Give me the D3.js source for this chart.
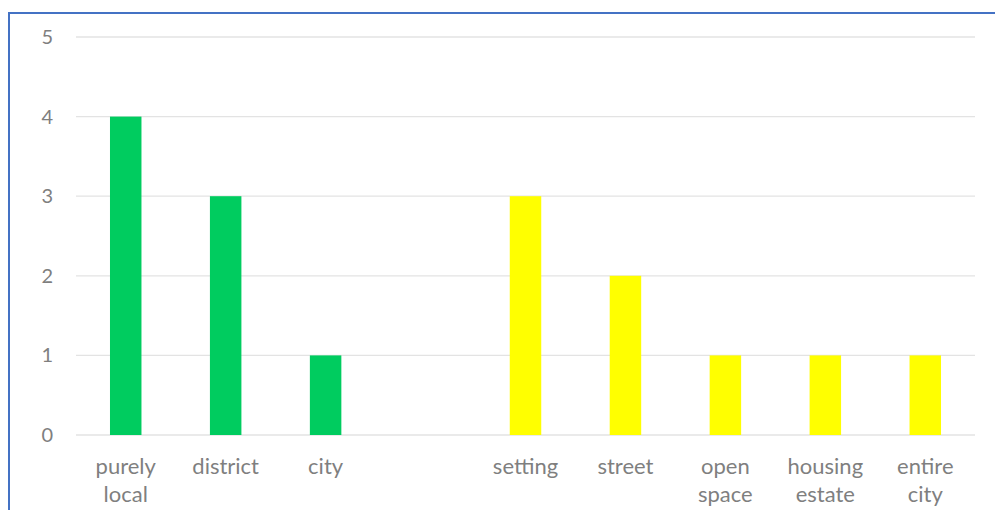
<!DOCTYPE html>
<html>
<head>
<meta charset="utf-8">
<script src="https://cdn.jsdelivr.net/npm/d3@7"></script>
<style>
  html, body { margin: 0; padding: 0; background: #fff; }
  svg { display: block; }
  text { font-family: Lato, "Open Sans", sans-serif; fill: #7f7f7f; }
</style>
</head>
<body>
<svg id="chart" width="995" height="510"></svg>
<script>
// Scale categories; the blank entry keeps a gap between the two groups
const categories = ["purely local", "district", "city", "", "setting", "street", "open space", "housing estate", "entire city"];
const values = [4, 3, 1, null, 3, 2, 1, 1, 1];
const groups = ["level", "level", "level", null, "place", "place", "place", "place", "place"];
const groupColors = { level: "#00cc5f", place: "#ffff00" };
const yTicks = [0, 1, 2, 3, 4, 5];

const svg = d3.select("#chart");
const margin = { left: 76, right: 20, top: 37, bottom: 75 };
const width = 995, height = 510;

// frame
svg.append("path")
  .attr("d", `M9,${height} V13 H${width}`)
  .attr("fill", "none")
  .attr("stroke", "#4472c4")
  .attr("stroke-width", 2);

const x = d3.scaleBand()
  .domain(d3.range(categories.length))
  .range([margin.left, width - margin.right])
  .paddingInner(0.685)
  .paddingOuter(0.34);

const y = d3.scaleLinear()
  .domain([0, 5])
  .range([height - margin.bottom, margin.top]);

// gridlines
svg.append("g")
  .selectAll("line")
  .data(yTicks)
  .join("line")
  .attr("x1", margin.left)
  .attr("x2", width - margin.right)
  .attr("y1", d => y(d))
  .attr("y2", d => y(d))
  .attr("stroke", "#e3e3e3")
  .attr("stroke-width", 1.3);

// y tick labels
const yAxis = d3.axisLeft(y).tickValues(yTicks).tickFormat(d3.format("d")).tickSize(0).tickPadding(0);
const yg = svg.append("g").attr("transform", "translate(53,0)").call(yAxis);
yg.select(".domain").remove();
yg.selectAll("text")
  .attr("font-size", 20)
  .attr("font-family", "Lato, 'Open Sans', sans-serif")
  .attr("fill", "#7f7f7f");

// bars
svg.append("g")
  .selectAll("rect")
  .data(values.map((v, i) => ({ v, i })).filter(d => d.v !== null))
  .join("rect")
  .attr("x", d => x(d.i))
  .attr("width", x.bandwidth())
  .attr("y", d => y(d.v))
  .attr("height", d => y(0) - y(d.v))
  .attr("fill", d => groupColors[groups[d.i]]);

// category labels, wrapped on spaces
const labels = svg.append("g")
  .selectAll("text")
  .data(categories.map((c, i) => ({ c, i })).filter(d => d.c))
  .join("text")
  .attr("text-anchor", "middle")
  .attr("font-size", 22)
  .attr("x", d => x(d.i) + x.bandwidth() / 2)
  .attr("y", 474);
labels.each(function (d) {
  const words = d.c.split(" ");
  d3.select(this).selectAll("tspan")
    .data(words)
    .join("tspan")
    .attr("x", x(d.i) + x.bandwidth() / 2)
    .attr("dy", (w, k) => k === 0 ? 0 : 28)
    .text(w => w);
});
</script>
</body>
</html>
